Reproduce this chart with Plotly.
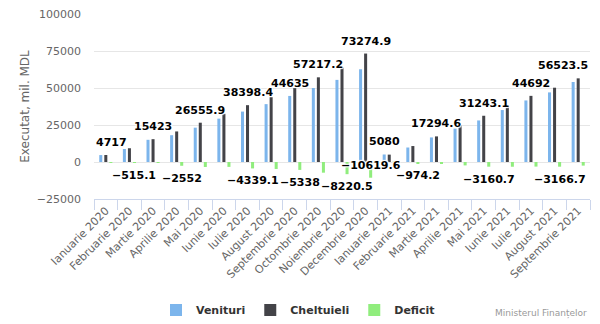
import plotly.graph_objects as go

# ---------------- data ----------------
months = ["Ianuarie 2020", "Februarie 2020", "Martie 2020", "Aprilie 2020", "Mai 2020",
          "Iunie 2020", "Iulie 2020", "August 2020", "Septembrie 2020", "Octombrie 2020",
          "Noiembrie 2020", "Decembrie 2020", "Ianuarie 2021", "Februarie 2021",
          "Martie 2021", "Aprilie 2021", "Mai 2021", "Iunie 2021", "Iulie 2021",
          "August 2021", "Septembrie 2021"]

venituri = [4680, 8785, 15000, 18100, 23200, 29300, 34059.3, 39100, 44635, 50000,
            55479.5, 62655.3, 5080, 9800, 16600, 22560, 28082.4, 35100, 41592,
            47033.3, 54073.5]
cheltuieli = [4717, 9300.1, 15423, 20652, 26555.9, 32600, 38398.4, 43800, 49973,
              57217.2, 63700, 73274.9, 4980, 10774.2, 17294.6, 24860, 31243.1, 38300,
              44692, 50200, 56523.5]
deficit = [-37, -515.1, -423, -2552, -3355.9, -3300, -4339.1, -4700, -5338, -7217.2,
           -8220.5, -10619.6, 100, -974.2, -694.6, -2300, -3160.7, -3200, -3100,
           -3166.7, -2450]

# months whose data label is visible, per series
labels_venituri = ["Septembrie 2020", "Ianuarie 2021"]
labels_cheltuieli = ["Ianuarie 2020", "Martie 2020", "Mai 2020", "Iulie 2020",
                     "Octombrie 2020", "Decembrie 2020", "Martie 2021", "Mai 2021",
                     "Iulie 2021", "Septembrie 2021"]
labels_deficit = ["Februarie 2020", "Aprilie 2020", "Iulie 2020", "Septembrie 2020",
                  "Noiembrie 2020", "Decembrie 2020", "Februarie 2021", "Mai 2021",
                  "August 2021"]

series_names = ["Venituri", "Cheltuieli", "Deficit"]
y_ticks = [-25000, 0, 25000, 50000, 75000, 100000]

# ---------------- style ----------------
colors = ["#7cb5ec", "#434348", "#90ed7d"]
W, H = 600, 324
ML, MR, MT, MB = 94, 10, 14, 125
BARGAP, GROUPGAP = 0.36, 0.4
FONT = "DejaVu Sans"
LABEL_BOX = 23  # px needed below a negative bar for its label

fig = go.Figure()
for name, vals, col in zip(series_names, [venituri, cheltuieli, deficit], colors):
    fig.add_trace(go.Bar(name=name, x=months, y=vals, marker=dict(color=col, line=dict(width=0))))


def fmt(v):
    s = str(int(v)) if float(v).is_integer() else f"{v:.1f}"
    return s.replace("-", "\u2212")


pw = W - ML - MR
ph = H - MT - MB
units_per_px = (y_ticks[-1] - y_ticks[0]) / ph
slot = (1 - BARGAP) / 3
outline = "1px 1px 1px #fff, -1px -1px 1px #fff, 1px -1px 1px #fff, -1px 1px 1px #fff"
annotations = []
for k, (vals, shown) in enumerate(zip([venituri, cheltuieli, deficit],
                                      [labels_venituri, labels_cheltuieli, labels_deficit])):
    for m in shown:
        i = months.index(m)
        v = vals[i]
        xpos = i + (k - 1) * slot
        xanchor = "center"
        if i == len(months) - 1:
            xpos, xanchor = len(months) - 0.5, "right"
        elif i == 0:
            xpos, xanchor = -0.5, "left"
        ypos, yanchor, yshift = v, ("bottom" if v >= 0 else "top"), (4 if v >= 0 else -4)
        if v < 0 and (v - LABEL_BOX * units_per_px) < y_ticks[0]:
            # no room below the column: pull the label up next to the baseline
            ypos, yanchor, yshift = 0, "middle", -3
        annotations.append(dict(
            x=xpos, y=ypos, xref="x", yref="y", text=fmt(v), showarrow=False,
            xanchor=xanchor, yanchor=yanchor, yshift=yshift,
            font=dict(family=FONT, size=11, color="#000000", weight="bold", shadow=outline)))

annotations.append(dict(
    text="Ministerul Finanțelor", xref="paper", yref="paper", x=(589 - ML) / pw,
    y=(H - MB - 313.5) / ph, xanchor="right", yanchor="middle", showarrow=False,
    font=dict(family=FONT, size=9, color="#999999")))

fig.update_layout(
    width=W, height=H,
    margin=dict(l=ML, r=MR, t=MT, b=MB, pad=0, autoexpand=False),
    paper_bgcolor="white", plot_bgcolor="white",
    barmode="group", bargap=BARGAP, bargroupgap=GROUPGAP,
    font=dict(family=FONT, size=11, color="#666666"),
    showlegend=True,
    legend=dict(orientation="h", xref="container", yref="container",
                x=298 / W, xanchor="center", y=1 - 310 / H, yanchor="middle",
                font=dict(family=FONT, size=11, color="#333333", weight="bold"),
                itemwidth=30, bgcolor="rgba(0,0,0,0)"),
    annotations=annotations,
)
fig.update_xaxes(
    type="category", showgrid=False, showline=True, linecolor="#ccd6eb", linewidth=1,
    ticks="outside", tickson="boundaries", ticklen=10, tickcolor="#ccd6eb",
    tickangle=-45, tickfont=dict(family=FONT, size=11, color="#666666"),
    automargin=False)
fig.update_yaxes(
    range=[y_ticks[0], y_ticks[-1]], tickvals=y_ticks, tickformat="d",
    showgrid=True, gridcolor="#e6e6e6", gridwidth=1, zeroline=False, showline=False,
    tickfont=dict(family=FONT, size=11, color="#666666"), ticklabelstandoff=12,
    title=dict(text="Executat, mil. MDL", font=dict(family=FONT, size=12, color="#666666"),
               standoff=4),
    automargin=False)

fig.write_html("out.html")
